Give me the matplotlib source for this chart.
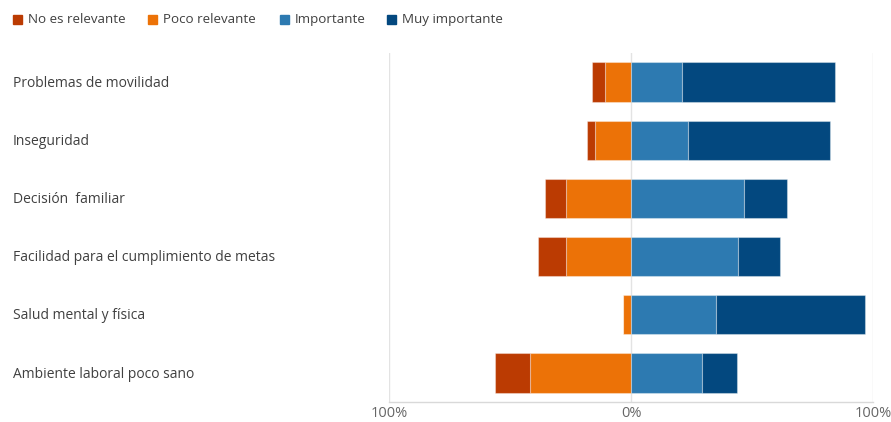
import matplotlib
matplotlib.use("Agg")
import matplotlib.pyplot as plt
from matplotlib.patches import Rectangle
from matplotlib.transforms import blended_transform_factory
import numpy as np

plt.rcParams['font.family'] = ['Open Sans', 'DejaVu Sans']

categories = ["Problemas de movilidad", "Inseguridad", "Decisión  familiar",
              "Facilidad para el cumplimiento de metas", "Salud mental y física",
              "Ambiente laboral poco sano"]
no_relevante = [5.4, 3.1, 8.5, 11.9, 0.0, 14.6]
poco_relevante = [10.7, 14.9, 27.0, 26.7, 3.2, 41.6]
importante = [20.9, 23.4, 46.9, 44.2, 35.1, 29.2]
muy_importante = [63.2, 58.7, 17.5, 17.2, 61.8, 14.6]
series_names = ["No es relevante", "Poco relevante", "Importante", "Muy importante"]
colors = ["#BB3B02", "#EC7207", "#2D7AB1", "#03487F"]
x_ticks = [-100, 0, 100]
x_tick_labels = ["100%", "0%", "100%"]

W, H = 891, 422
fig = plt.figure(figsize=(W / 100, H / 100), dpi=100)
ax = fig.add_axes([389 / W, 1 - 402 / H, (873 - 389) / W, (402 - 53) / H])

y = np.arange(len(categories))
nr = np.array(no_relevante)
pr = np.array(poco_relevante)
im = np.array(importante)
mi = np.array(muy_importante)
h = 0.675
edge = dict(edgecolor=(1, 1, 1, 0.35), linewidth=0.8)
ax.barh(y, -pr, height=h, color=colors[1], **edge, zorder=3)
ax.barh(y, -nr, left=-pr, height=h, color=colors[0], **edge, zorder=3)
ax.barh(y, im, height=h, color=colors[2], **edge, zorder=3)
ax.barh(y, mi, left=im, height=h, color=colors[3], **edge, zorder=3)

ax.set_xlim(-100, 100)
ax.set_ylim(len(categories) - 0.5, -0.5)
ax.set_xticks(x_ticks)
ax.set_xticklabels(x_tick_labels)
ax.tick_params(axis='x', length=0, pad=3, labelsize=10.5, labelcolor="#666666")
ax.set_yticks([])
for s in ["top", "left", "right"]:
    ax.spines[s].set_visible(False)
ax.spines["bottom"].set_color("#D9D9D9")
ax.spines["bottom"].set_linewidth(1.0)
ax.grid(axis='x', color="#E3E3E3", linewidth=1.0, zorder=0)
ax.set_axisbelow(True)

trans = blended_transform_factory(fig.transFigure, ax.transData)
for yi, c in zip(y, categories):
    ax.text(13 / W, yi + 0.02, c, transform=trans, ha='left', va='center',
            fontsize=10.0, color="#404040")

# legend
leg_sq = [13, 148, 280, 387]
for xs, name, col in zip(leg_sq, series_names, colors):
    fig.patches.append(Rectangle((xs / W, 1 - 24 / H), 9 / W, 9 / H,
                                 transform=fig.transFigure, color=col, figure=fig))
    fig.text((xs + 15) / W, 1 - 19.5 / H, name, ha='left', va='center',
             fontsize=9.6, color="#404040")

fig.savefig("out.png", dpi=100)
